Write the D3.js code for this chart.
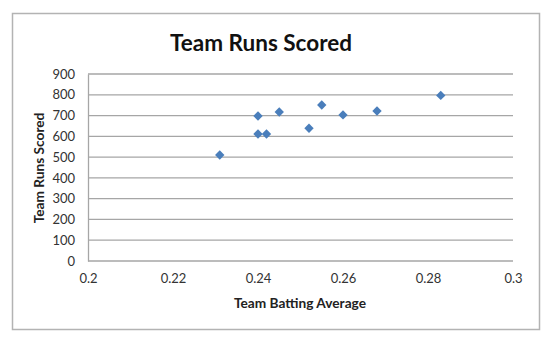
<!DOCTYPE html>
<html>
<head>
<meta charset="utf-8">
<script src="https://cdn.jsdelivr.net/npm/d3@7"></script>
<style>
  body { margin: 0; background: #fff; }
  svg text { font-family: Lato, "Open Sans", sans-serif; }
</style>
</head>
<body>
<div id="chart"></div>
<script>
// batting average vs runs scored
const battingAvg = [0.231, 0.240, 0.245, 0.240, 0.242, 0.252, 0.255, 0.260, 0.268, 0.283];
const runsScored = [510, 698, 717, 611, 611, 639, 751, 703, 722, 797];
const xTicks = [0.2, 0.22, 0.24, 0.26, 0.28, 0.3];
const yTicks = [0, 100, 200, 300, 400, 500, 600, 700, 800, 900];

const W = 550, H = 338;
const margin = { left: 88, right: 37, top: 74, bottom: 77 };

const svg = d3.select('#chart').append('svg')
  .attr('width', W)
  .attr('height', H);

// outer frame
svg.append('rect')
  .attr('x', 12.5).attr('y', 13.5)
  .attr('width', 527).attr('height', 316)
  .attr('fill', '#fff')
  .attr('stroke', '#b3b3b3')
  .attr('stroke-width', 1.5);

const x = d3.scaleLinear().domain([0.2, 0.3]).range([margin.left, W - margin.right]);
const y = d3.scaleLinear().domain([0, 900]).range([H - margin.bottom, margin.top]);

// gridlines
svg.append('g')
  .selectAll('line')
  .data(yTicks)
  .join('line')
  .attr('x1', x(0.2)).attr('x2', x(0.3))
  .attr('y1', d => y(d)).attr('y2', d => y(d))
  .attr('stroke', '#a6a6a6')
  .attr('stroke-width', 1.3);

// y axis
const yAxis = svg.append('g')
  .attr('transform', `translate(${x(0.2)},0)`)
  .call(d3.axisLeft(y).tickValues(yTicks).tickSize(0).tickPadding(13));
yAxis.select('.domain').attr('stroke', '#a6a6a6').attr('stroke-width', 1.3);
yAxis.selectAll('text')
  .attr('font-size', 13)
  .attr('fill', '#333')
  .attr('font-family', 'Lato, sans-serif');

// x axis (labels only, the 0 gridline is the baseline)
const xAxis = svg.append('g')
  .attr('transform', `translate(0,${y(0)})`)
  .call(d3.axisBottom(x).tickValues(xTicks).tickSize(0).tickPadding(13).tickFormat(d3.format('')));
xAxis.select('.domain').remove();
xAxis.selectAll('text')
  .attr('font-size', 13)
  .attr('fill', '#333')
  .attr('font-family', 'Lato, sans-serif');

// points
const pts = battingAvg.map((a, i) => ({ avg: a, runs: runsScored[i] }));
svg.append('g')
  .selectAll('path')
  .data(pts)
  .join('path')
  .attr('d', d3.symbol().type(d3.symbolSquare).size(44))
  .attr('transform', d => `translate(${x(d.avg)},${y(d.runs)}) rotate(45)`)
  .attr('fill', '#4a7ebb');

// titles
svg.append('text')
  .attr('x', 261).attr('y', 51)
  .attr('text-anchor', 'middle')
  .attr('font-size', 22.5)
  .attr('font-weight', 'bold')
  .attr('fill', '#111')
  .text('Team Runs Scored');

svg.append('text')
  .attr('x', 300).attr('y', 308)
  .attr('text-anchor', 'middle')
  .attr('font-size', 13.7)
  .attr('font-weight', 'bold')
  .attr('fill', '#222')
  .text('Team Batting Average');

svg.append('text')
  .attr('transform', 'translate(44,168) rotate(-90)')
  .attr('text-anchor', 'middle')
  .attr('font-size', 13.7)
  .attr('font-weight', 'bold')
  .attr('fill', '#222')
  .text('Team Runs Scored');
</script>
</body>
</html>
